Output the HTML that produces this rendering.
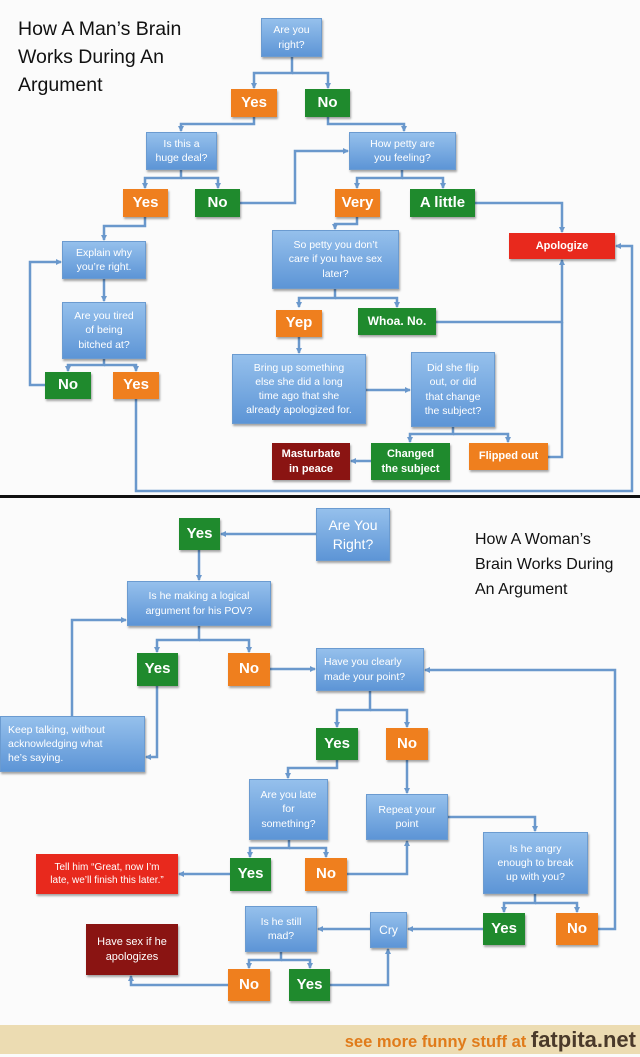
<!DOCTYPE html>
<html><head><meta charset="utf-8"><style>
*{margin:0;padding:0;box-sizing:border-box}
body{width:640px;height:1054px;position:relative;background:#fbfbfb;font-family:"Liberation Sans",sans-serif;overflow:hidden}
.b{position:absolute;display:flex;align-items:center;justify-content:center;text-align:center;color:#fff;box-shadow:1px 2px 2px rgba(0,0,0,.35);line-height:1.35}
.q{background:linear-gradient(#95c0ec,#5d95d6);font-size:10.5px;border:1px solid #6b9bd0}
.o{background:#ef7f1e;font-size:15px;font-weight:bold}
.g{background:#1f8a2d;font-size:15px;font-weight:bold}
.r{background:#e8291d;font-size:11px;font-weight:bold}
.d{background:#8a1412;font-size:11px;font-weight:bold}
.t{position:absolute;color:#111;font-size:19.5px;line-height:28px}
.t2{position:absolute;color:#111;font-size:16px;line-height:25px}
svg{position:absolute;left:0;top:0}
</style></head><body>
<svg width="640" height="1054">
<defs><marker id="a" markerWidth="6" markerHeight="6" refX="5" refY="3" orient="auto" markerUnits="userSpaceOnUse"><path d="M0,0L6,3L0,6z" fill="#6a98cc"/></marker></defs>
<g fill="none" stroke="#6a98cc" stroke-width="2.5">
<path d="M292,57V73H254V88" marker-end="url(#a)"/><path d="M292,73H328V88" marker-end="url(#a)"/>
<path d="M254,117V124H181V131" marker-end="url(#a)"/>
<path d="M328,117V124H404V131" marker-end="url(#a)"/>
<path d="M181,170V178H145V188" marker-end="url(#a)"/><path d="M181,178H218V188" marker-end="url(#a)"/>
<path d="M240,203H295V151H348" marker-end="url(#a)"/>
<path d="M402,170V178H357V188" marker-end="url(#a)"/><path d="M402,178H443V188" marker-end="url(#a)"/>
<path d="M145,217V226H104V240" marker-end="url(#a)"/>
<path d="M104,279V301" marker-end="url(#a)"/>
<path d="M104,359V365H68V371" marker-end="url(#a)"/><path d="M104,365H136V371" marker-end="url(#a)"/>
<path d="M45,385H30V262H61" marker-end="url(#a)"/>
<path d="M357,217V224H335V229" marker-end="url(#a)"/>
<path d="M475,203H562V232" marker-end="url(#a)"/>
<path d="M335,289V298H299V307" marker-end="url(#a)"/><path d="M335,298H397V307" marker-end="url(#a)"/>
<path d="M436,322H562V260" marker-end="url(#a)"/>
<path d="M299,337V353" marker-end="url(#a)"/>
<path d="M366,390H410" marker-end="url(#a)"/>
<path d="M453,427V434H410V442" marker-end="url(#a)"/><path d="M453,434H508V442" marker-end="url(#a)"/>
<path d="M548,457H562V322"/>
<path d="M371,461H351" marker-end="url(#a)"/>
<path d="M136,399V491H632V246H616" marker-end="url(#a)"/>
<path d="M316,534H221" marker-end="url(#a)"/>
<path d="M199,550V580" marker-end="url(#a)"/>
<path d="M199,626V640H157V652" marker-end="url(#a)"/><path d="M199,640H249V652" marker-end="url(#a)"/>
<path d="M157,686V757H146" marker-end="url(#a)"/>
<path d="M72,716V620H126" marker-end="url(#a)"/>
<path d="M270,669H315" marker-end="url(#a)"/>
<path d="M370,691V710H337V727" marker-end="url(#a)"/><path d="M370,710H407V727" marker-end="url(#a)"/>
<path d="M337,760V768H288V778" marker-end="url(#a)"/>
<path d="M407,760V793" marker-end="url(#a)"/>
<path d="M448,817H535V831" marker-end="url(#a)"/>
<path d="M289,840V848H250V857" marker-end="url(#a)"/><path d="M289,848H326V857" marker-end="url(#a)"/>
<path d="M230,874H179" marker-end="url(#a)"/>
<path d="M347,874H407V841" marker-end="url(#a)"/>
<path d="M535,894V903H504V912" marker-end="url(#a)"/><path d="M535,903H577V912" marker-end="url(#a)"/>
<path d="M598,929H615V670H425" marker-end="url(#a)"/>
<path d="M483,929H408" marker-end="url(#a)"/>
<path d="M370,929H318" marker-end="url(#a)"/>
<path d="M281,952V960H249V968" marker-end="url(#a)"/><path d="M281,960H310V968" marker-end="url(#a)"/>
<path d="M228,985H131V976" marker-end="url(#a)"/>
<path d="M330,985H388V949" marker-end="url(#a)"/>
</g>
<rect x="0" y="495" width="640" height="3" fill="#111"/>
<rect x="0" y="1025" width="640" height="29" fill="#ecdcb2"/>
</svg>
<div class="t" style="left:18px;top:15px">How A Man’s Brain<br>Works During An<br>Argument</div>
<div class="b q" style="left:261px;top:18px;width:61px;height:39px">Are you<br>right?</div>
<div class="b o" style="left:231px;top:89px;width:46px;height:28px">Yes</div>
<div class="b g" style="left:305px;top:89px;width:45px;height:28px">No</div>
<div class="b q" style="left:146px;top:132px;width:71px;height:38px">Is this a<br>huge deal?</div>
<div class="b q" style="left:349px;top:132px;width:107px;height:38px">How petty are<br>you feeling?</div>
<div class="b o" style="left:123px;top:189px;width:45px;height:28px">Yes</div>
<div class="b g" style="left:195px;top:189px;width:45px;height:28px">No</div>
<div class="b o" style="left:335px;top:189px;width:45px;height:28px">Very</div>
<div class="b g" style="left:410px;top:189px;width:65px;height:28px">A little</div>
<div class="b q" style="left:62px;top:241px;width:84px;height:38px">Explain why<br>you’re right.</div>
<div class="b r" style="left:509px;top:233px;width:106px;height:26px">Apologize</div>
<div class="b q" style="left:272px;top:230px;width:127px;height:59px">So petty you don’t<br>care if you have sex<br>later?</div>
<div class="b q" style="left:62px;top:302px;width:84px;height:57px">Are you tired<br>of being<br>bitched at?</div>
<div class="b o" style="left:276px;top:310px;width:46px;height:27px">Yep</div>
<div class="b g" style="left:358px;top:308px;width:78px;height:27px;font-size:12px">Whoa. No.</div>
<div class="b g" style="left:45px;top:372px;width:46px;height:27px">No</div>
<div class="b o" style="left:113px;top:372px;width:46px;height:27px">Yes</div>
<div class="b q" style="left:232px;top:354px;width:134px;height:70px">Bring up something<br>else she did a long<br>time ago that she<br>already apologized for.</div>
<div class="b q" style="left:411px;top:352px;width:84px;height:75px">Did she flip<br>out, or did<br>that change<br>the subject?</div>
<div class="b d" style="left:272px;top:443px;width:78px;height:37px">Masturbate<br>in peace</div>
<div class="b g" style="left:371px;top:443px;width:79px;height:37px;font-size:11px">Changed<br>the subject</div>
<div class="b o" style="left:469px;top:443px;width:79px;height:27px;font-size:11px">Flipped out</div>

<div class="t2" style="left:475px;top:527px">How A Woman’s<br>Brain Works During<br>An Argument</div>
<div class="b g" style="left:179px;top:518px;width:41px;height:32px">Yes</div>
<div class="b q" style="left:316px;top:508px;width:74px;height:53px;font-size:14px">Are You<br>Right?</div>
<div class="b q" style="left:127px;top:581px;width:144px;height:45px">Is he making a logical<br>argument for his POV?</div>
<div class="b g" style="left:137px;top:653px;width:41px;height:33px">Yes</div>
<div class="b o" style="left:228px;top:653px;width:42px;height:33px">No</div>
<div class="b q" style="left:316px;top:648px;width:108px;height:43px;justify-content:flex-start;text-align:left;padding-left:7px">Have you clearly<br>made your point?</div>
<div class="b q" style="left:0px;top:716px;width:145px;height:56px;justify-content:flex-start;text-align:left;padding-left:7px">Keep talking, without<br>acknowledging what<br>he’s saying.</div>
<div class="b g" style="left:316px;top:728px;width:42px;height:32px">Yes</div>
<div class="b o" style="left:386px;top:728px;width:42px;height:32px">No</div>
<div class="b q" style="left:249px;top:779px;width:79px;height:61px">Are you late<br>for<br>something?</div>
<div class="b q" style="left:366px;top:794px;width:82px;height:46px">Repeat your<br>point</div>
<div class="b r" style="left:36px;top:854px;width:142px;height:40px;font-size:10px;font-weight:normal">Tell him “Great, now I’m<br>late, we’ll finish this later.”</div>
<div class="b g" style="left:230px;top:858px;width:41px;height:33px">Yes</div>
<div class="b o" style="left:305px;top:858px;width:42px;height:33px">No</div>
<div class="b q" style="left:483px;top:832px;width:105px;height:62px">Is he angry<br>enough to break<br>up with you?</div>
<div class="b q" style="left:245px;top:906px;width:72px;height:46px">Is he still<br>mad?</div>
<div class="b q" style="left:370px;top:912px;width:37px;height:36px;font-size:12px">Cry</div>
<div class="b g" style="left:483px;top:913px;width:42px;height:32px">Yes</div>
<div class="b o" style="left:556px;top:913px;width:42px;height:32px">No</div>
<div class="b d" style="left:86px;top:924px;width:92px;height:51px;font-weight:normal">Have sex if he<br>apologizes</div>
<div class="b o" style="left:228px;top:969px;width:42px;height:32px">No</div>
<div class="b g" style="left:289px;top:969px;width:41px;height:32px">Yes</div>
<div style="position:absolute;right:4px;top:1025px;height:29px;line-height:29px;white-space:nowrap"><span style="color:#e07b1a;font-size:16.5px;font-weight:bold">see more funny stuff at </span><span style="color:#4a3a2a;font-size:22px;font-weight:bold">fatpita.net</span></div>
</body></html>
